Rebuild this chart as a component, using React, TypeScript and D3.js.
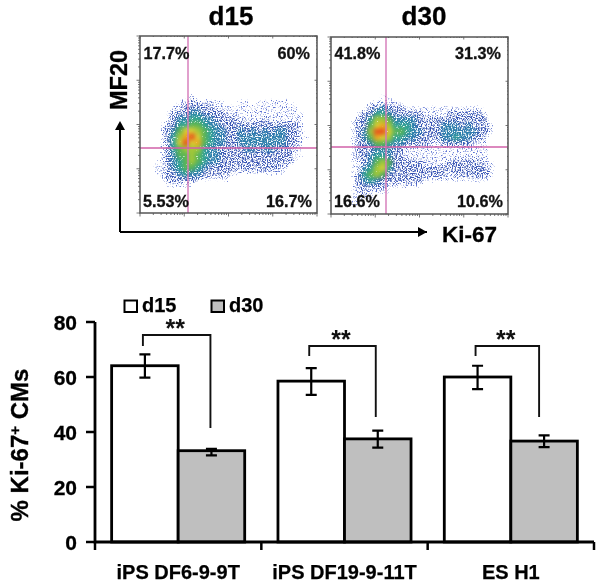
import React from "react";
import * as d3 from "d3";

// Flow cytometry density (0 empty ... 9 hottest), one string per row
const densityD15 = [
  "00000000000000000000000000000","00000000000000000000000000000","00000000000000000000000000000",
  "00000000000000000000000000000","00000000000000000000000000000","00000000000000000000000000000",
  "00000000000000000000000000000","00000000000000000000000000000","00000000000000000000000000000",
  "00000000100000000000000000000",
  "00000011211111001101111110000",
  "00000112222211111111111111000",
  "00001222332222111111111111100",
  "00001233443322221111211111100",
  "00012244554332222222222222100",
  "00012357765433223232323322100",
  "00012468975433223333333322110",
  "00012479785433223333333322100",
  "00012456664332222332332221100",
  "00012355654332222222222221100",
  "00112345654332222222222221000",
  "00112345543222222222222110000",
  "00112234332222211111111100000",
  "00012222221111100000000000000",
  "00001111100000000000000000000",
];
const densityD30 = [
  "00000000000000000000000000000","00000000000000000000000000000","00000000000000000000000000000",
  "00000000000000000000000000000","00000000000000000000000000000","00000000000000000000000000000",
  "00000000000000000000000000000","00000000000000000000000000000","00000000000000000000000000000",
  "00000000110000000000000000000",
  "00000011111100000000000000000",
  "00000122322211111111111110000",
  "00001224432222211112222221000",
  "00012246653333222222222222000",
  "00012257864443222233323222100",
  "00012369975543322233333322100",
  "00012358764433222233433221000",
  "00012235543322221122222111000",
  "00012223332211111111111111000",
  "00012234432211111111111111000",
  "00011235652222211112222221100",
  "00011346742222222222222222100",
  "00012456522222222221222222100",
  "00012343222222211111111111000",
  "00012222211111100000000000000",
  "00011211110000000000000000000",
  "00011110000000000000000000000",
  "00011000000000000000000000000",
];
const d15Labels = ["17.7%", "60%", "5.53%", "16.7%"];
const d30Labels = ["41.8%", "31.3%", "16.6%", "10.6%"];

// Bar chart data
const categories = ["iPS DF6-9-9T", "iPS DF19-9-11T", "ES H1"];
const seriesNames = ["d15", "d30"];
const d15Means = [64.1, 58.5, 60.0];
const d30Means = [33.2, 37.5, 36.7];
const d15Hi = [68.2, 63.2, 64.1];
const d15Lo = [59.8, 53.5, 55.6];
const d30Hi = [33.9, 40.5, 38.8];
const d30Lo = [31.5, 34.3, 34.5];
const bracketTop = [75.3, 71.3, 71.3];
const bracketLeftEnd = [71.3, 67.6, 67.6];
const bracketRightEnd = [41.5, 45.5, 45.5];
const yTicks = [0, 20, 40, 60, 80];

const FONT = "'Liberation Sans', Arial, sans-serif";
const CELL = 6.1;
const heat = d3
  .scaleLinear<string>()
  .domain([1, 2, 3, 4, 5, 6, 7, 8, 9])
  .range(["#5f75d4", "#3a55b5", "#2f80ae", "#35a596", "#5cb555", "#a3c83a", "#d8cf35", "#f0a820", "#e8501c"]);
const coverage = d3.scaleLinear().domain([1, 2, 3, 6]).range([0.4, 0.5, 0.6, 0.85]).clamp(true);

function FlowPanel(props: { left: number; top: number; size: number; crossX: number; crossY: number; rows: string[]; labels: string[]; id: string; }) {
  const { left, top, size, crossX, crossY, rows, labels, id } = props;
  const lx = d3.scaleLog().domain([10, 100000]).range([left, left + size]);
  const ly = d3.scaleLog().domain([10, 100000]).range([top + size, top]);
  const ticks = lx.ticks();
  const cellX = d3.scaleBand<number>().domain(d3.range(29)).range([left, left + 29 * CELL]);
  const cellY = d3.scaleBand<number>().domain(d3.range(rows.length)).range([top, top + rows.length * CELL]);
  const cells = rows.flatMap((row, r) =>
    row.split("").map((ch, c) => {
      const v = +ch;
      if (v < 1) return null;
      return <rect key={`${r}-${c}`} x={cellX(c)} y={cellY(r)} width={CELL + 0.5} height={CELL + 0.5} fill={heat(v)} fillOpacity={coverage(v)} />;
    })
  );
  const isMajor = (t: number) => Math.abs(Math.log10(t) - Math.round(Math.log10(t))) < 1e-6;
  return (
    <g>
      <clipPath id={`clip-${id}`}><rect x={left} y={top} width={size} height={size} /></clipPath>
      <g clipPath={`url(#clip-${id})`}>
        <g filter="url(#speckle)">{cells}</g>
      </g>
      <line x1={crossX} x2={crossX} y1={top} y2={top + size} stroke="#d478b8" strokeWidth={1.4} />
      <line x1={left} x2={left + size} y1={crossY} y2={crossY} stroke="#d060a8" strokeWidth={1.4} />
      <rect x={left} y={top} width={size} height={size} fill="none" stroke="#555" strokeWidth={1.5} />
      {ticks.map((t) => {
        const len = isMajor(t) ? 3.5 : 2;
        return (
          <g key={t} stroke="#555" strokeWidth={0.8}>
            <line x1={lx(t)} x2={lx(t)} y1={top + size} y2={top + size + len} />
            <line x1={left} x2={left - len} y1={ly(t)} y2={ly(t)} />
            <line x1={lx(t)} x2={lx(t)} y1={top} y2={top + len - 1} />
            <line x1={left + size} x2={left + size - len + 1} y1={ly(t)} y2={ly(t)} />
          </g>
        );
      })}
      <g fontFamily={FONT} fontWeight="bold" fontSize={16.2} fill="#111" stroke="#111" strokeWidth={0.3}>
        <text x={left + 3.5} y={59}>{labels[0]}</text>
        <text x={left + size - 7} y={59} textAnchor="end">{labels[1]}</text>
        <text x={left + 3} y={207}>{labels[2]}</text>
        <text x={left + size - 5} y={207} textAnchor="end">{labels[3]}</text>
      </g>
    </g>
  );
}

export default function App() {
  const y = d3.scaleLinear().domain([0, 80]).range([542, 322]);
  const x0 = d3.scaleBand().domain(categories).range([95, 594]);
  const x1 = d3.scaleBand().domain(seriesNames).range([0, x0.bandwidth()]).paddingOuter(0.25).paddingInner(0);
  const bw = x1.bandwidth();
  const series = [
    { name: "d15", means: d15Means, hi: d15Hi, lo: d15Lo, fill: "#ffffff" },
    { name: "d30", means: d30Means, hi: d30Hi, lo: d30Lo, fill: "#bfbfbf" },
  ];
  const xTickPos = [...categories.map((c) => x0(c)!), 594];
  const rightNudge = [-1, -2, -5];
  return (
    <svg width={601} height={586} style={{ position: "absolute", left: 0, top: 0, display: "block" }}>
      <defs>
        <filter id="speckle" x="-20%" y="-20%" width="140%" height="140%" colorInterpolationFilters="sRGB">
          <feGaussianBlur in="SourceGraphic" stdDeviation={2.2} result="b" />
          <feTurbulence type="fractalNoise" baseFrequency={0.8} numOctaves={1} seed={4} result="n" />
          <feComposite in="b" in2="n" operator="arithmetic" k1={0} k2={1} k3={1} k4={-0.98} result="sum" />
          <feColorMatrix in="sum" type="matrix" values="0 0 0 0 0  0 0 0 0 0  0 0 0 0 0  0 0 0 6 0" result="mask" />
          <feColorMatrix in="b" type="matrix" values="1 0 0 0 0  0 1 0 0 0  0 0 1 0 0  0 0 0 4 0" result="solid" />
          <feComposite in="solid" in2="mask" operator="in" />
        </filter>
        <filter id="jpeg" colorInterpolationFilters="sRGB"><feGaussianBlur stdDeviation={0.4} /></filter>
      </defs>

      <g filter="url(#jpeg)">
        <FlowPanel id="a" left={140} top={36} size={177} crossX={188} crossY={148} rows={densityD15} labels={d15Labels} />
        <FlowPanel id="b" left={331} top={37} size={177} crossX={386} crossY={147} rows={densityD30} labels={d30Labels} />

        <g fontFamily={FONT} fontWeight="bold" fill="#000" stroke="#000" strokeWidth={0.3}>
          <text x={231} y={25} fontSize={26} textAnchor="middle">d15</text>
          <text x={424} y={25} fontSize={26} textAnchor="middle">d30</text>
          <text transform="translate(127,80) rotate(-90)" fontSize={23.5} textAnchor="middle">MF20</text>
          <text x={442} y={242} fontSize={22.5}>Ki-67</text>
        </g>
        <path d="M120,232V128M427,232H120" fill="none" stroke="#000" strokeWidth={2} />
        <path d="M120,121l-5,9h10z" fill="#000" />
        <path d="M427,232l-9,-5v10z" fill="#000" />

        {series.map((s) =>
          categories.map((c, i) => {
            const bx = x0(c)! + x1(s.name)!;
            const cx = bx + bw / 2;
            return (
              <g key={s.name + c} stroke="#000">
                <rect x={bx} y={y(s.means[i])} width={bw} height={y(0) - y(s.means[i])} fill={s.fill} strokeWidth={2.8} />
                <path d={`M${cx},${y(s.hi[i])}V${y(s.lo[i])}M${cx - 5.5},${y(s.hi[i])}H${cx + 5.5}M${cx - 5.5},${y(s.lo[i])}H${cx + 5.5}`} fill="none" strokeWidth={2.2} />
              </g>
            );
          })
        )}

        {categories.map((c, i) => {
          const l = x0(c)! + x1("d15")! + bw / 2 - 2;
          const r = x0(c)! + x1("d30")! + bw / 2 + rightNudge[i];
          return (
            <g key={c}>
              <path d={`M${l},${y(bracketLeftEnd[i])}V${y(bracketTop[i])}H${r}V${y(bracketRightEnd[i])}`} fill="none" stroke="#111" strokeWidth={1.9} />
              <text x={(l + r) / 2 - 1.5} y={y(bracketTop[i]) + 2} textAnchor="middle" fontFamily={FONT} fontWeight="bold" fontSize={25} fill="#111">**</text>
            </g>
          );
        })}

        <path d={`M95,${y(80)}V${y(0)}H594`} fill="none" stroke="#000" strokeWidth={2.8} />
        {yTicks.map((t) => (
          <g key={t}>
            <line x1={86} x2={95} y1={y(t)} y2={y(t)} stroke="#000" strokeWidth={2.5} />
            <text x={77} y={y(t) + 7.5} textAnchor="end" fontFamily={FONT} fontWeight="bold" fontSize={21} stroke="#000" strokeWidth={0.3}>{t}</text>
          </g>
        ))}
        {xTickPos.map((t) => (
          <line key={t} x1={t} x2={t} y1={y(0)} y2={y(0) + 8} stroke="#000" strokeWidth={2.5} />
        ))}
        {categories.map((c) => (
          <text key={c} x={x0(c)! + x0.bandwidth() / 2} y={579} textAnchor="middle" fontFamily={FONT} fontWeight="bold" fontSize={20} stroke="#000" strokeWidth={0.25}>{c}</text>
        ))}

        <text transform="translate(28,445) rotate(-90)" textAnchor="middle" fontFamily={FONT} fontWeight="bold" fontSize={24} stroke="#000" strokeWidth={0.3}>
          % Ki-67<tspan dy={-8} fontSize={15}>+</tspan><tspan dy={8}> CMs</tspan>
        </text>

        <rect x={124.5} y={300.5} width={12.5} height={11.5} fill="#fff" stroke="#000" strokeWidth={2} />
        <text x={142} y={312} fontFamily={FONT} fontWeight="bold" fontSize={20} stroke="#000" strokeWidth={0.25}>{seriesNames[0]}</text>
        <rect x={211.5} y={300.5} width={12.5} height={11.5} fill="#bfbfbf" stroke="#000" strokeWidth={2} />
        <text x={229} y={312} fontFamily={FONT} fontWeight="bold" fontSize={20} stroke="#000" strokeWidth={0.25}>{seriesNames[1]}</text>
      </g>
    </svg>
  );
}
